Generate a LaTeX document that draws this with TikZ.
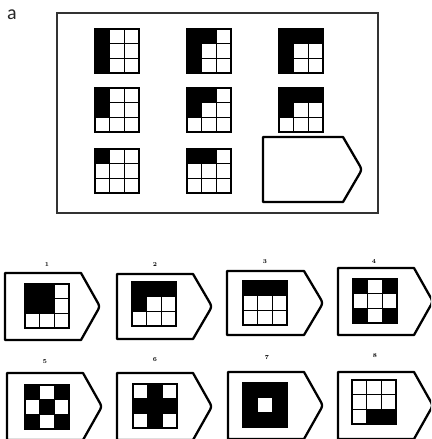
\documentclass[tikz,border=0pt]{standalone}
\usepackage{fontspec}
\newfontfamily\labfont{Carlito}
\usetikzlibrary{calc}
\tikzset{
  frame/.style={line width=1.3pt, draw=black!80},
  shieldline/.style={line width=2.3pt, line join=round},
  gridline/.style={line width=1.6pt},
  numlab/.style={font=\fontsize{6}{6}\selectfont\bfseries, inner sep=0pt},
}
% grid: x, y (top-left), list of r/c cells to fill
\newcommand\mgrid[3]{%
  \foreach \r/\c in {#3} {\fill[black] ({#1+(\c-1)*44/3},{#2+(\r-1)*44/3}) rectangle ({#1+\c*44/3},{#2+\r*44/3});}
  \foreach \k in {1,2} {
    \draw[gridline] ({#1+\k*44/3},#2) -- ({#1+\k*44/3},{#2+44});
    \draw[gridline] (#1,{#2+\k*44/3}) -- ({#1+44},{#2+\k*44/3});
  }
  \draw[gridline] (#1,#2) rectangle ({#1+44},{#2+44});
}
% shield: x, y (top-left), w, h
\newcommand\shield[4]{%
  \draw[shieldline] (#1,#2) -- ({#1+#3-19},#2) -- ({#1+#3-3.5},{#2+#4/2-6}) .. controls ({#1+#3},{#2+#4/2}) .. ({#1+#3-3.5},{#2+#4/2+6}) -- ({#1+#3-19},{#2+#4}) -- (#1,{#2+#4}) -- cycle;
}
\begin{document}
\begin{tikzpicture}[x=1pt,y=-1pt]
\useasboundingbox (0,0) rectangle (431,439);
\clip (0,0) rectangle (431,439);
\node[font=\labfont\fontsize{20}{20}\selectfont, inner sep=0pt, text=black!85] (lab) at (12,15) {a};
\draw[frame] (57,13) rectangle (378,213);
% matrix
\mgrid{95}{29}{1/1,2/1,3/1}
\mgrid{187}{29}{1/1,2/1,3/1,1/2}
\mgrid{279}{29}{1/1,2/1,3/1,1/2,1/3}
\mgrid{95}{88}{1/1,2/1}
\mgrid{187}{88}{1/1,2/1,1/2}
\mgrid{279}{88}{1/1,2/1,1/2,1/3}
\mgrid{95}{149}{1/1}
\mgrid{187}{149}{1/1,1/2}
\shield{263}{137}{99}{65}
% options row 1
\shield{5}{273}{95}{67}
\mgrid{25}{284}{1/1,1/2,2/1,2/2}
\node[numlab] (n1) at (47,265) {1};
\shield{117}{274}{95}{65}
\mgrid{132}{282}{1/1,1/2,1/3,2/1}
\node[numlab] (n2) at (155,265) {2};
\shield{227}{271}{96}{64}
\mgrid{243}{281}{1/1,1/2,1/3}
\node[numlab] (n3) at (265,262) {3};
\shield{338}{268}{95}{67}
\mgrid{353}{279}{1/1,1/3,3/1,3/3}
\node[numlab] (n4) at (374,262) {4};
% options row 2
\shield{7}{373}{95}{67}
\mgrid{25}{385}{1/1,1/3,2/2,3/1,3/3}
\node[numlab] (n5) at (45,362) {5};
\shield{117}{373}{95}{67}
\mgrid{133}{384}{1/2,2/1,2/2,2/3,3/2}
\node[numlab] (n6) at (155,360) {6};
\shield{228}{372}{95}{67}
\mgrid{243}{383}{1/1,1/2,1/3,2/1,2/3,3/1,3/2,3/3}
\fill[white] ({243+44/3+2.5},{383+44/3+2.5}) rectangle ({243+88/3-2.5},{383+88/3-2.5});
\node[numlab] (n7) at (267,358) {7};
\shield{338}{372}{95}{67}
\mgrid{352}{380}{3/2,3/3}
\node[numlab] (n8) at (375,356) {8};
\end{tikzpicture}
\end{document}
